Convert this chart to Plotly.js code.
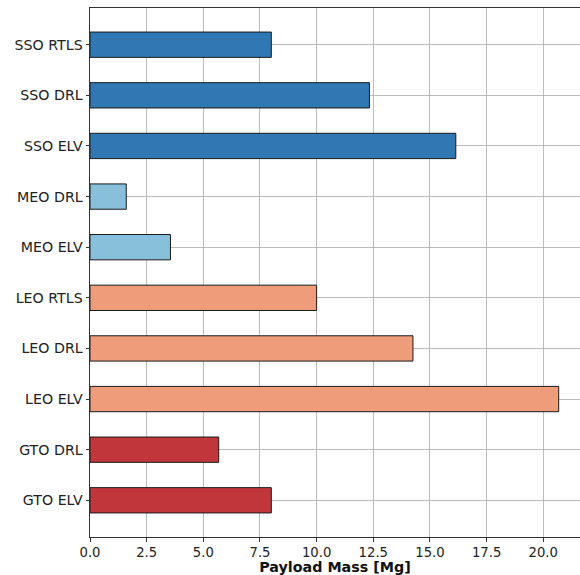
<!DOCTYPE html>
<html>
<head>
<meta charset="utf-8">
<script src="https://cdn.plot.ly/plotly-3.0.1.min.js"></script>
<style>html,body{margin:0;padding:0;background:#fff;}#chart{width:580px;height:575px;}</style>
</head>
<body>
<div id="chart"></div>
<script>
// Categories (bottom to top)
const categories = ["GTO ELV", "GTO DRL", "LEO ELV", "LEO DRL", "LEO RTLS", "MEO ELV", "MEO DRL", "SSO ELV", "SSO DRL", "SSO RTLS"];
const payloadMass = [8.0, 5.68, 20.68, 14.25, 10.0, 3.55, 1.6, 16.14, 12.33, 8.0];
const orbitGroup = ["GTO", "GTO", "LEO", "LEO", "LEO", "MEO", "MEO", "SSO", "SSO", "SSO"];
const groupColors = {GTO: "#c1363b", LEO: "#ef9c7b", MEO: "#88bfdb", SSO: "#2f78b4"};
const xTicks = [0, 2.5, 5, 7.5, 10, 12.5, 15, 17.5, 20];
const xTickText = ["0.0", "2.5", "5.0", "7.5", "10.0", "12.5", "15.0", "17.5", "20.0"];

const trace = {
  type: "bar",
  orientation: "h",
  y: categories,
  x: payloadMass,
  width: 0.5,
  marker: {
    color: orbitGroup.map(g => groupColors[g]),
    line: {color: "#1a1a1a", width: 1}
  },
  hoverinfo: "x+y"
};

const layout = {
  width: 580, height: 575,
  margin: {l: 90.4, r: 0, t: 8.3, b: 38.3, pad: 0},
  paper_bgcolor: "#fff", plot_bgcolor: "#fff",
  showlegend: false,
  font: {family: "DejaVu Sans", size: 13, color: "#222"},
  xaxis: {
    range: [0, 21.62],
    tickvals: xTicks, ticktext: xTickText,
    showgrid: true, gridcolor: "rgba(176,176,176,0.85)", gridwidth: 1,
    zeroline: false,
    showline: true, linecolor: "#333", linewidth: 1, mirror: true,
    ticks: "outside", ticklen: 3.5, tickcolor: "#333", tickwidth: 1,
    tickfont: {family: "DejaVu Sans", size: 13.2, color: "#222"},
    layer: "above traces",
    title: {text: "<b>Payload Mass [Mg]</b>", font: {family: "DejaVu Sans", size: 14.3, color: "#111"}, standoff: 3}
  },
  yaxis: {
    type: "category",
    categoryorder: "array", categoryarray: categories,
    range: [-0.725, 9.725],
    showgrid: true, gridcolor: "rgba(176,176,176,0.85)", gridwidth: 1,
    zeroline: false,
    showline: true, linecolor: "#333", linewidth: 1, mirror: true,
    ticks: "outside", ticklen: 3.5, tickcolor: "#333", tickwidth: 1,
    tickfont: {family: "DejaVu Sans", size: 14.2, color: "#222"},
    layer: "above traces"
  }
};

Plotly.newPlot("chart", [trace], layout, {displayModeBar: false, staticPlot: true});
</script>
</body>
</html>
